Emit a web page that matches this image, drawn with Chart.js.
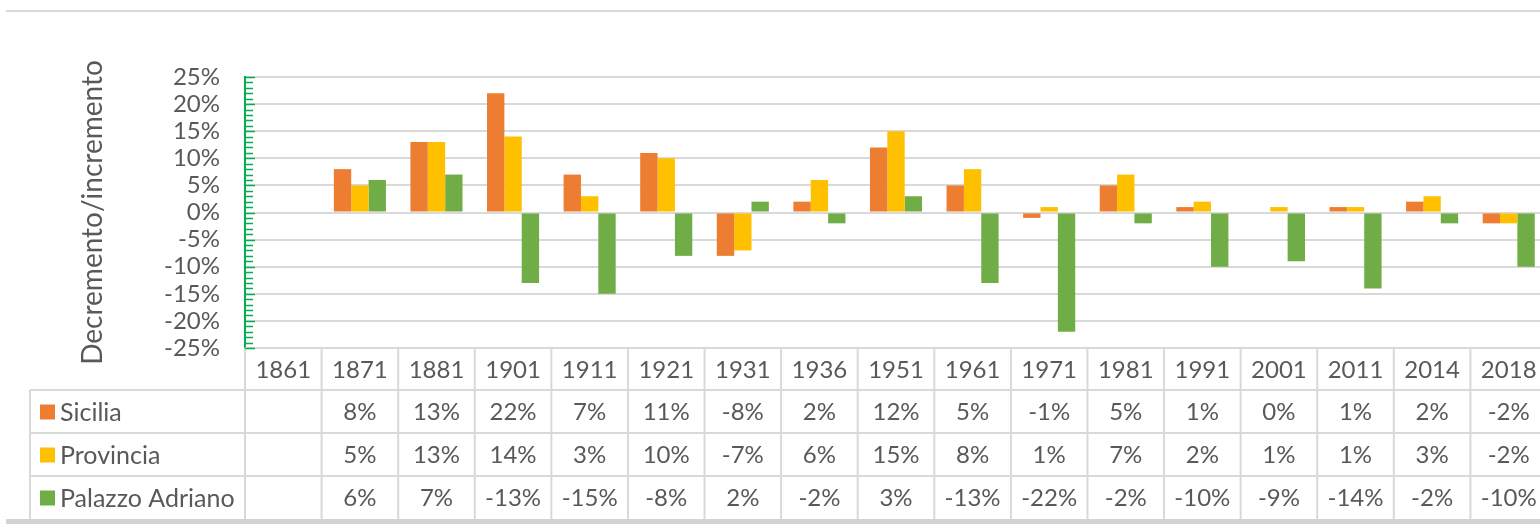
<!DOCTYPE html>
<html>
<head>
<meta charset="utf-8">
<script src="https://cdn.jsdelivr.net/npm/chart.js@4/dist/chart.umd.min.js"></script>
<style>
  html, body { margin: 0; padding: 0; background: #fff; overflow: hidden; }
  #wrap { width: 1550px; height: 524px; }
</style>
</head>
<body>
<div id="wrap"><canvas id="bar-chart" width="1550" height="524"></canvas></div>
<script>
const years = ["1861", "1871", "1881", "1901", "1911", "1921", "1931", "1936", "1951", "1961", "1971", "1981", "1991", "2001", "2011", "2014", "2018"];
const sicilia = [null, 8, 13, 22, 7, 11, -8, 2, 12, 5, -1, 5, 1, 0, 1, 2, -2];
const provincia = [null, 5, 13, 14, 3, 10, -7, 6, 15, 8, 1, 7, 2, 1, 1, 3, -2];
const palazzo = [null, 6, 7, -13, -15, -8, 2, -2, 3, -13, -22, -2, -10, -9, -14, -2, -10];
const yTicks = [-25, -20, -15, -10, -5, 0, 5, 10, 15, 20, 25];

const FONT = 'Lato, "Open Sans", sans-serif';
const TEXT = "#595959";
const GRID = "#d9d9d9";
const AXIS_GREEN = "#00b050";

// data table under the plot, one column per category
const dataTable = {
  id: "dataTable",
  beforeDraw(chart) {
    const ctx = chart.ctx;
    ctx.save();
    ctx.fillStyle = "#d9d9d9";
    ctx.fillRect(6, 10, chart.width, 2);
    ctx.fillStyle = "#d3d3d3";
    ctx.fillRect(6, 519, chart.width, 5);
    ctx.restore();
  },
  afterDraw(chart) {
    const ctx = chart.ctx;
    const x = chart.scales.x;
    const area = chart.chartArea;
    const n = years.length;
    const w = (x.right - x.left) / n;
    const rows = [area.bottom, 390, 433, 476, 519];
    const legendLeft = 30;

    ctx.save();
    ctx.strokeStyle = GRID;
    ctx.lineWidth = 2;
    ctx.beginPath();
    // horizontal rules
    ctx.moveTo(area.left, rows[0]);
    ctx.lineTo(chart.width, rows[0]);
    for (let r = 1; r < rows.length - 1; r++) {
      ctx.moveTo(legendLeft, rows[r]);
      ctx.lineTo(chart.width, rows[r]);
    }
    // vertical rules
    ctx.moveTo(legendLeft, rows[1]);
    ctx.lineTo(legendLeft, rows[4]);
    for (let i = 0; i <= n; i++) {
      const cx = x.getPixelForValue(i) - w / 2;
      ctx.moveTo(cx, rows[0]);
      ctx.lineTo(cx, rows[4]);
    }
    ctx.stroke();

    ctx.font = "24px " + FONT;
    ctx.fillStyle = TEXT;
    ctx.textAlign = "center";
    ctx.textBaseline = "middle";
    years.forEach((yr, i) => {
      ctx.fillText(yr, x.getPixelForValue(i), (rows[0] + rows[1]) / 2 + 1);
    });

    chart.data.datasets.forEach((ds, r) => {
      const mid = (rows[r + 1] + rows[r + 2]) / 2 + 1;
      ctx.fillStyle = ds.backgroundColor;
      ctx.fillRect(40, mid - 8, 15, 15);
      ctx.fillStyle = TEXT;
      ctx.textAlign = "left";
      ctx.font = "25px " + FONT;
      ctx.fillText(ds.label, 60, mid);
      ctx.font = "24px " + FONT;
      ctx.textAlign = "center";
      ds.data.forEach((v, i) => {
        if (v === null) return;
        ctx.fillText(v + "%", x.getPixelForValue(i), mid);
      });
    });

    // minor and major tick marks on the value axis
    const y = chart.scales.y;
    ctx.strokeStyle = AXIS_GREEN;
    ctx.lineWidth = 1.5;
    ctx.beginPath();
    for (let v = y.min; v <= y.max; v++) {
      const py = Math.round(y.getPixelForValue(v)) + 0.5;
      ctx.moveTo(area.left, py);
      ctx.lineTo(area.left + (v % 5 === 0 ? 10 : 8), py);
    }
    ctx.stroke();
    ctx.restore();
  }
};

const config = {
  type: "bar",
  data: {
    labels: years,
    datasets: [
      { label: "Sicilia", data: sicilia, backgroundColor: "#ed7d31" },
      { label: "Provincia", data: provincia, backgroundColor: "#ffc000" },
      { label: "Palazzo Adriano", data: palazzo, backgroundColor: "#70ad47" }
    ]
  },
  options: {
    responsive: false,
    animation: false,
    devicePixelRatio: 1,
    layout: { padding: { left: 0, top: 77, right: 3, bottom: 176 } },
    datasets: { bar: { categoryPercentage: 0.68, barPercentage: 1.0 } },
    plugins: { legend: { display: false }, tooltip: { enabled: false } },
    scales: {
      x: { display: false },
      y: {
        min: -25,
        max: 25,
        afterFit(scale) { scale.width = 245; },
        afterBuildTicks(scale) { scale.ticks = yTicks.map((v) => ({ value: v })); },
        ticks: {
          autoSkip: false,
          padding: 25,
          color: TEXT,
          font: { family: FONT, size: 24 },
          callback: (v) => v + "%"
        },
        grid: { color: GRID, lineWidth: 2, drawTicks: false },
        border: { display: true, color: AXIS_GREEN, width: 2 },
        title: {
          display: true,
          text: "Decremento/incremento",
          color: TEXT,
          font: { family: FONT, size: 28 },
          padding: { top: 76, bottom: 0 }
        }
      }
    }
  },
  plugins: [dataTable]
};

const ctx = document.getElementById("bar-chart").getContext("2d");
window.myBar = new Chart(ctx, config);
</script>
</body>
</html>
